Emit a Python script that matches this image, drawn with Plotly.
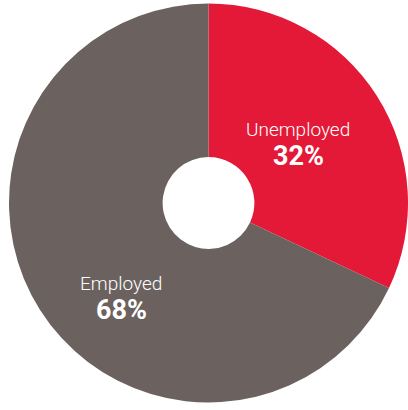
import plotly.graph_objects as go

# Labour force status shares (percent)
labels = ["Unemployed", "Employed"]
values = [32, 68]
colors = ["#E31937", "#6B6260"]

W, H = 408, 410

fig = go.Figure(go.Pie(
    labels=labels,
    values=values,
    sort=False,
    direction="clockwise",
    rotation=0,
    hole=0.23,
    marker=dict(colors=colors, line=dict(width=0)),
    textinfo="none",
    hoverinfo="label+percent",
    domain=dict(x=[9 / W, 1.0], y=[6 / H, 1 - 2 / H]),
    showlegend=False,
))

# Label positions in pixels (centre x, name y, value y)
label_pos = {
    "Unemployed": (298, 129, 156),
    "Employed": (121, 283, 310),
}

annotations = []
for lab, val in zip(labels, values):
    cx, ny, vy = label_pos[lab]
    annotations.append(dict(
        text=lab, x=cx / W, y=1 - ny / H, xref="paper", yref="paper",
        showarrow=False, xanchor="center", yanchor="middle",
        font=dict(family="Roboto Light, Roboto", size=19, color="#FFFFFF", weight=300),
    ))
    annotations.append(dict(
        text=f"{val}%", x=cx / W, y=1 - vy / H, xref="paper", yref="paper",
        showarrow=False, xanchor="center", yanchor="middle",
        font=dict(family="Roboto", size=27, color="#FFFFFF", weight=700),
    ))

fig.update_layout(
    width=W, height=H,
    margin=dict(l=0, r=0, t=0, b=0),
    paper_bgcolor="white",
    plot_bgcolor="white",
    annotations=annotations,
)

fig.write_html("out.html")
